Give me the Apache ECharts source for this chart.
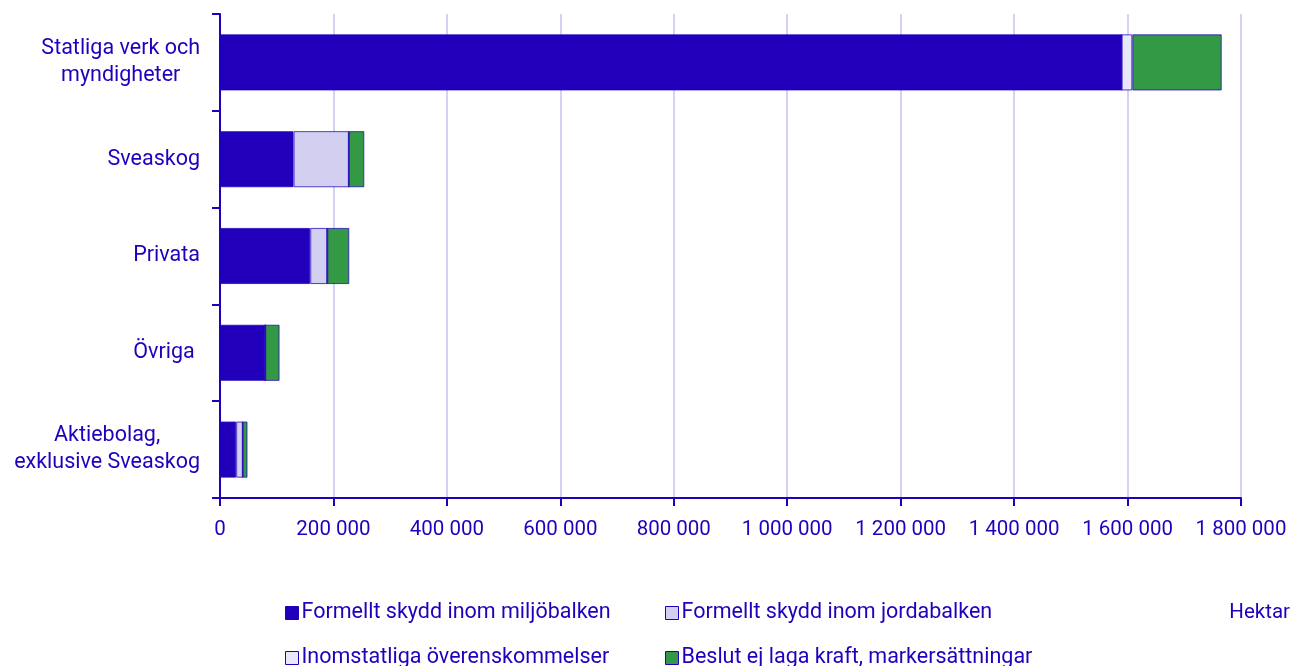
<!DOCTYPE html>
<html>
<head>
<meta charset="utf-8">
<script src="https://cdn.jsdelivr.net/npm/echarts@6/dist/echarts.min.js"></script>
<style>
  html, body { margin: 0; padding: 0; background: #fff; }
  #main { width: 1296px; height: 666px; }
</style>
</head>
<body>
<div id="main"></div>
<script>
// ägarkategorier
var categories = ["Statliga verk och\nmyndigheter", "Sveaskog", "Privata", "Övriga ", "Aktiebolag,\nexklusive Sveaskog"]
var seriesNames = ["Formellt skydd inom miljöbalken", "Formellt skydd inom jordabalken", "Inomstatliga överenskommelser", "Beslut ej laga kraft, markersättningar"]
var miljobalken = [1589600, 129700, 159100, 79700, 28500]
var jordabalken = [0, 97500, 30000, 0, 11700]
var inomstatliga = [18800, 0, 0, 0, 0]
var beslut = [157600, 27200, 38800, 25300, 8300]

var textColor = "#2100bd"
var colors = ["#2200bb", "#d3cff0", "#e8e8fa", "#339944"]
var font = "Roboto"

function fmt(v) {
  return String(v).replace(/\B(?=(\d{3})+(?!\d))/g, " ")
}

var values = [miljobalken, jordabalken, inomstatliga, beslut]
var series = seriesNames.map(function (name, i) {
  return {
    name: name,
    type: "bar",
    stack: "total",
    barWidth: "58%",
    itemStyle: {
      color: colors[i],
      borderColor: "rgba(34,0,187,0.75)",
      borderWidth: 1
    },
    emphasis: { disabled: true },
    data: values[i]
  }
})

// en legend per post, två kolumner
var legendPos = [[280, 597], [660, 597], [280, 642], [660, 642]]
var legends = seriesNames.map(function (n, i) {
  return {
    left: legendPos[i][0],
    top: legendPos[i][1],
    itemWidth: 13,
    itemHeight: 13,
    itemGap: 4,
    icon: "rect",
    selectedMode: false,
    textStyle: { color: textColor, fontSize: 21.5, fontFamily: font, padding: [0, 0, 0, -2] },
    data: [{ name: n, itemStyle: { color: colors[i], borderColor: textColor, borderWidth: 1 } }]
  }
})

var myChart = echarts.init(document.getElementById("main"))
myChart.setOption({
  animation: false,
  textStyle: { fontFamily: font },
  grid: { left: 220, right: 55, top: 14, bottom: 168 },
  title: {
    text: "Hektar",
    right: 1,
    top: 597,
    textStyle: { color: textColor, fontSize: 20.5, fontWeight: "normal", fontFamily: font }
  },
  legend: legends,
  xAxis: {
    type: "value",
    min: 0,
    max: 1800000,
    interval: 200000,
    axisLine: { show: true, lineStyle: { color: textColor, width: 2 } },
    axisTick: { show: true, length: 8, lineStyle: { color: textColor, width: 2 } },
    axisLabel: {
      color: textColor,
      fontSize: 20.5,
      margin: 21,
      formatter: function (v) { return fmt(v) }
    },
    splitLine: { show: true, lineStyle: { color: "#d4d2f0", width: 2 } }
  },
  yAxis: {
    type: "category",
    inverse: true,
    data: categories,
    axisLine: { show: true, lineStyle: { color: textColor, width: 2 } },
    axisTick: { show: true, length: 8, lineStyle: { color: textColor, width: 2 } },
    axisLabel: {
      color: textColor,
      margin: 20,
      align: "right",
      formatter: function (v) {
        return v.split("\n").map(function (s) { return "{a|" + s + "}" }).join("\n")
      },
      rich: {
        a: { color: textColor, fontSize: 21.5, fontFamily: font, align: "center", lineHeight: 27 }
      }
    },
    splitLine: { show: false }
  },
  series: series
})
</script>
</body>
</html>
